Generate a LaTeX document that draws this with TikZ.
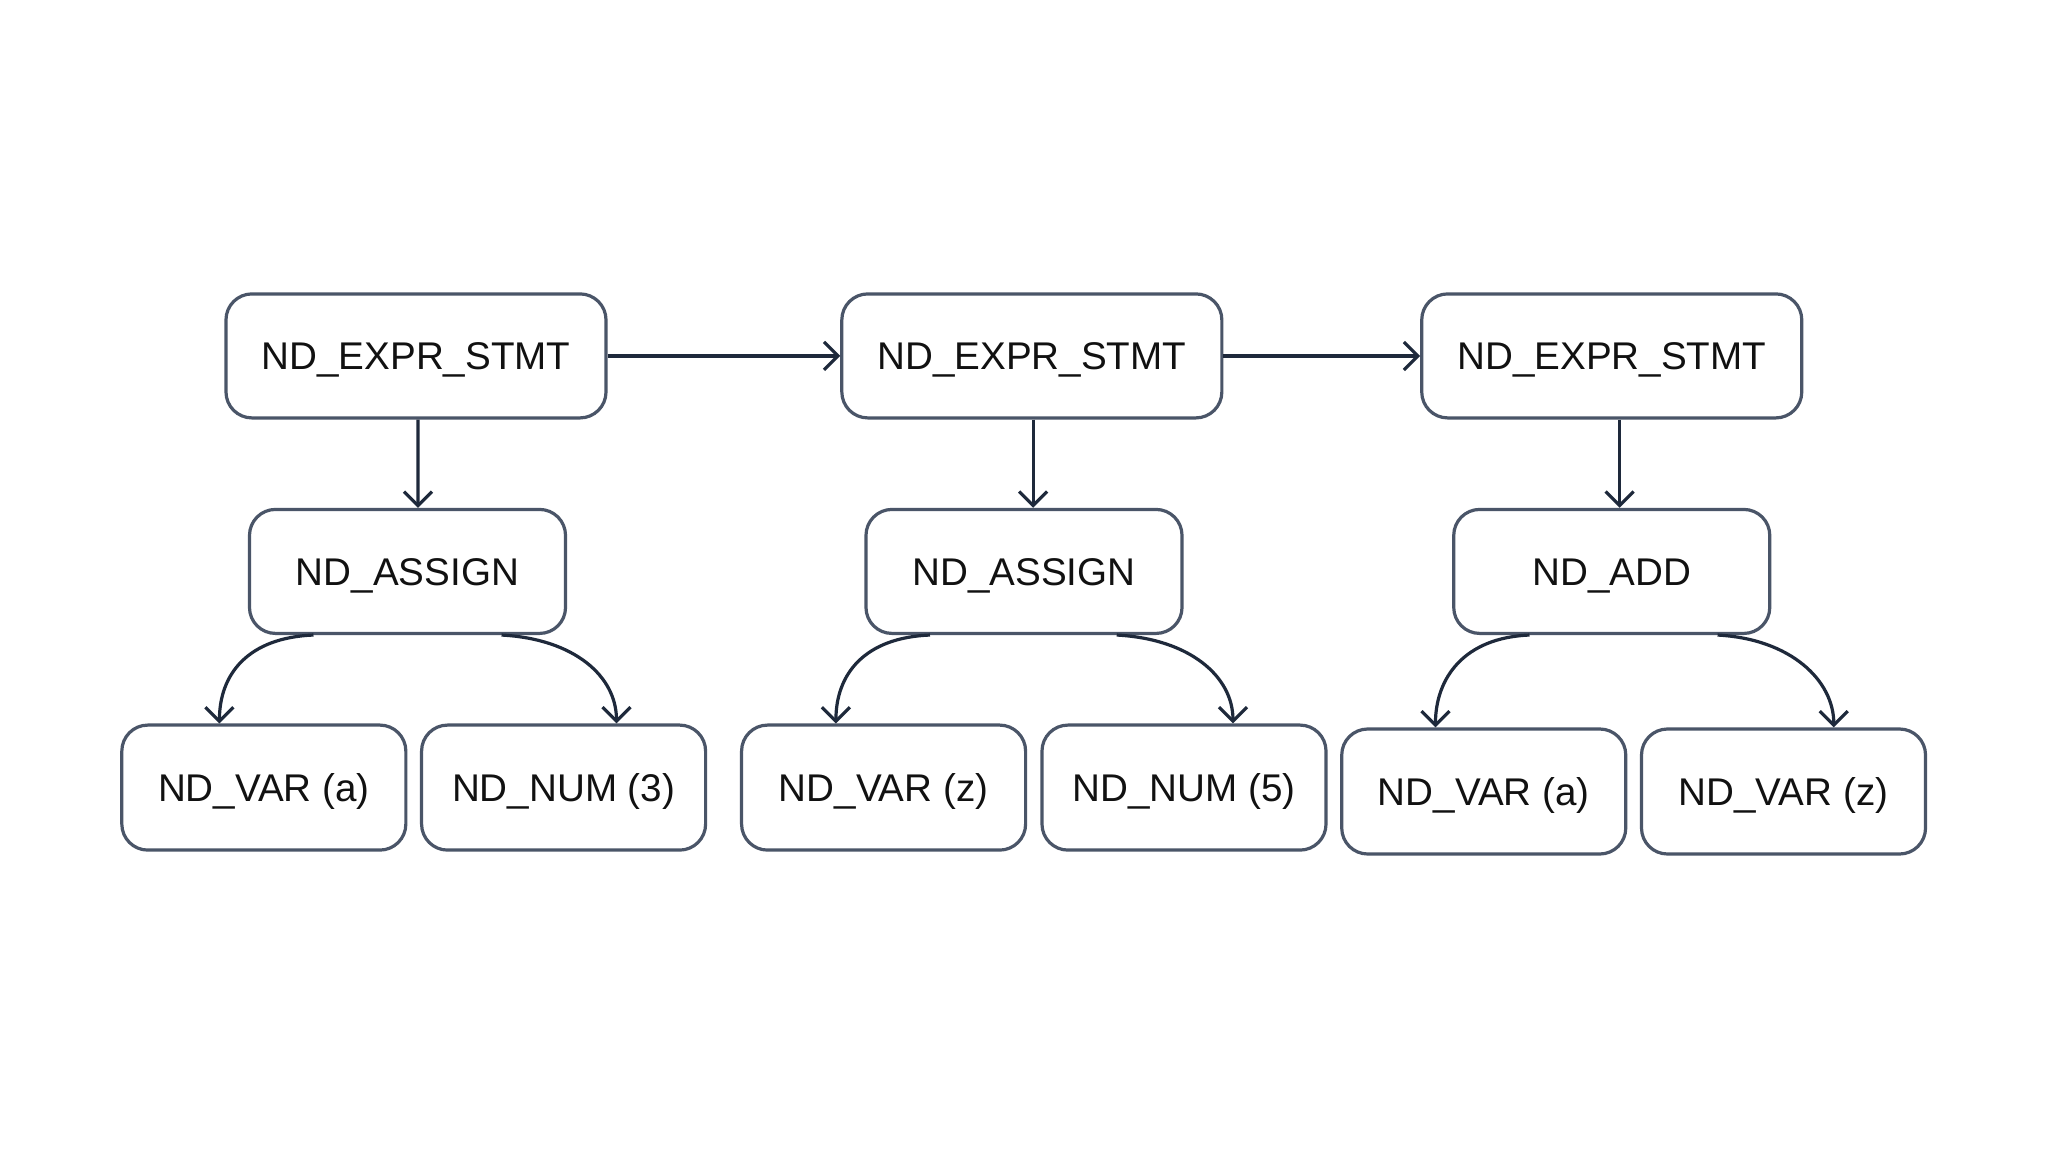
\documentclass[tikz,border=0pt]{standalone}
\usepackage{fontspec}
\setmainfont{Liberation Sans}
\usetikzlibrary{arrows.meta,calc}
\definecolor{boxline}{HTML}{4A5568}
\definecolor{arrline}{HTML}{1E293B}
\definecolor{txt}{HTML}{111111}
\tikzset{
  box/.style={draw=boxline, line width=1.6pt, rounded corners=13pt, fill=white,
    text=txt, font=\fontsize{19.3}{22}\selectfont, inner sep=0pt, anchor=center,
    text height=13.8pt, text depth=0pt},
  topbox/.style={box, minimum width=190pt, minimum height=62pt},
  midbox/.style={box, minimum width=158pt, minimum height=62pt},
  botbox/.style={box, minimum width=142pt, minimum height=62.5pt},
  conn/.style={draw=arrline, line width=1.6pt, -{Straight Barb[length=7pt,width=14pt,line width=1.6pt]}}
}
\begin{document}
\begin{tikzpicture}[x=0.653pt,y=-0.653pt]
\useasboundingbox[fill=white] (0,0) rectangle (1568,882);
% top row
\node[topbox] (T1) at (318.5,272.5) {ND\_EXPR\_STMT};
\node[topbox] (T2) at (790,272.5) {ND\_EXPR\_STMT};
\node[topbox] (T3) at (1234,272.5) {ND\_EXPR\_STMT};
% middle row
\node[midbox] (M1) at (312,437.5) {ND\_ASSIGN};
\node[midbox] (M2) at (784,437.5) {ND\_ASSIGN};
\node[midbox] (M3) at (1234,437.5) {ND\_ADD};
% bottom row
\node[botbox] (B1) at (202,603) {ND\_VAR (a)};
\node[botbox] (B2) at (431.5,603) {ND\_NUM (3)};
\node[botbox] (B3) at (676.5,603) {ND\_VAR (z)};
\node[botbox] (B4) at (906.5,603) {ND\_NUM (5)};
\node[botbox] (B5) at (1136,606) {ND\_VAR (a)};
\node[botbox] (B6) at (1365.5,606) {ND\_VAR (z)};
% horizontal
\draw[conn] (T1.east) -- (T2.west);
\draw[conn] (T2.east) -- (T3.west);
% vertical
\draw[conn] ($(T1.south)+(1.5,0)$) -- ($(M1.north)+(8,0)$);
\draw[conn] ($(T2.south)+(1,0)$) -- ($(M2.north)+(7,0)$);
\draw[conn] ($(T3.south)+(6,0)$) -- ($(M3.north)+(6,0)$);
% curves
\draw[conn] ($(M1.south)+(-72,0)$) .. controls +(-50,2) and +(0,-38) .. ($(B1.north)+(-34,0)$);
\draw[conn] ($(M1.south)+(72,0)$) .. controls +(56,3) and +(0,-36) .. ($(B2.north)+(40.5,0)$);
\draw[conn] ($(M2.south)+(-72,0)$) .. controls +(-50,2) and +(0,-38) .. ($(B3.north)+(-36.5,0)$);
\draw[conn] ($(M2.south)+(71,0)$) .. controls +(56,3) and +(0,-36) .. ($(B4.north)+(37.5,0)$);
\draw[conn] ($(M3.south)+(-63,0)$) .. controls +(-50,2) and +(0,-38) .. ($(B5.north)+(-37,0)$);
\draw[conn] ($(M3.south)+(81,0)$) .. controls +(56,3) and +(0,-36) .. ($(B6.north)+(38.5,0)$);
\end{tikzpicture}
\end{document}
